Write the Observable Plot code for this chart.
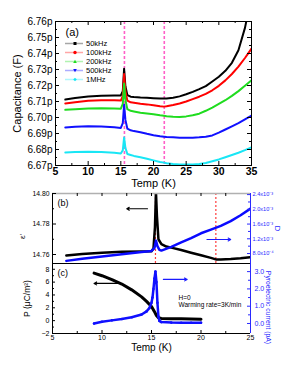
<!DOCTYPE html>
<html><head><meta charset="utf-8">
<script src="https://cdn.jsdelivr.net/npm/d3@7"></script>
<script src="https://cdn.jsdelivr.net/npm/@observablehq/plot@0.6"></script>
<style>
body{margin:0;background:#fff;}
#fig{position:relative;width:291px;height:368px;overflow:hidden;background:#fff;font-family:"Liberation Sans",Arial,sans-serif;}
</style></head><body><div id="fig"></div>
<script>
// ---------- Panel (a): capacitance vs temperature ----------
const tempA = [6.5,8,10,12,14,15,15.3,15.5,15.7,16,16.5,17,18,19,20,21,21.6,22,23,24,25,26,27,28,29,30,31,32,33,34,35];
const cap50k  = [6.7112,6.7122,6.7131,6.7136,6.7138,6.7138,6.7165,6.7305,6.7195,6.7140,6.7130,6.7128,6.7125,6.7123,6.7121,6.7119,6.7118,6.7119,6.7123,6.7132,6.7145,6.7160,6.7177,6.7196,6.7225,6.7255,6.7292,6.7342,6.7420,6.7560,6.7760];
const cap100k = [6.7088,6.7096,6.7104,6.7108,6.7108,6.7106,6.7135,6.7272,6.7165,6.7105,6.7095,6.7092,6.7086,6.7082,6.7077,6.7071,6.7068,6.7070,6.7078,6.7088,6.7100,6.7115,6.7130,6.7148,6.7170,6.7198,6.7232,6.7272,6.7318,6.7372,6.7430];
const cap200k = [6.7048,6.7052,6.7056,6.7058,6.7057,6.7055,6.7085,6.7212,6.7110,6.7052,6.7042,6.7038,6.7030,6.7025,6.7020,6.7014,6.7011,6.7008,6.7004,6.7003,6.7007,6.7014,6.7024,6.7042,6.7062,6.7085,6.7108,6.7135,6.7165,6.7198,6.7232];
const cap500k = [6.6938,6.6942,6.6945,6.6944,6.6939,6.6935,6.6965,6.7080,6.6985,6.6930,6.6920,6.6915,6.6908,6.6898,6.6889,6.6883,6.6880,6.6878,6.6876,6.6874,6.6873,6.6874,6.6876,6.6880,6.6888,6.6905,6.6925,6.6945,6.6965,6.6988,6.7012];
const cap1M   = [6.6781,6.6784,6.6786,6.6784,6.6779,6.6775,6.6795,6.6875,6.6810,6.6772,6.6766,6.6760,6.6752,6.6742,6.6732,6.6722,6.6718,6.6714,6.6710,6.6707,6.6706,6.6707,6.6710,6.6716,6.6727,6.6738,6.6752,6.6766,6.6780,6.6796,6.6814];
const seriesNames = ["50kHz","100kHz","200kHz","500kHz","1MHz"];
const seriesColors = ["#000000","#ff0000","#1fdc1f","#1010ff","#19e6f5"];
const seriesValues = [cap50k,cap100k,cap200k,cap500k,cap1M];
const capTicks = [6.67,6.68,6.69,6.70,6.71,6.72,6.73,6.74,6.75,6.76];
const capTickLabels = ["6.67p","6.68p","6.69p","6.70p","6.71p","6.72p","6.73p","6.74p","6.75p","6.76p"];
const tempTicksA = [5,10,15,20,25,30,35];
const dashTempsA = [15.55,21.65];

// ---------- Panel (b): eps' and D ----------
const tempEps = [6.4,8,10,12,14,15,15.2,15.35,15.45,15.55,15.7,16,16.5,17,18,19,20,21,21.5,22,23,24,25];
const epsVals = [14.7593,14.7603,14.7612,14.7618,14.7620,14.7622,14.7640,14.7780,14.8010,14.7850,14.7700,14.7668,14.7652,14.7645,14.7630,14.7612,14.7595,14.7578,14.7568,14.7567,14.7570,14.7575,14.7582];
const tempD = [6.4,8,10,12,14,15,15.3,15.45,15.6,15.8,16,17,18,19,20,21,22,23,24,25];
const lossD = [0.60,0.66,0.72,0.78,0.84,0.87,0.95,1.15,1.00,0.90,0.88,0.98,1.10,1.22,1.35,1.45,1.55,1.68,1.84,2.02]; // x10^-3
const epsTicks = [14.76,14.78,14.80];
const epsTickLabels = ["14.76","14.78","14.80"];
const dTicks = [0.8,1.2,1.6,2.0,2.4];
const dTickLabels = ["8.0x10\u207B\u2074","1.2x10\u207B\u00B3","1.6x10\u207B\u00B3","2.0x10\u207B\u00B3","2.4x10\u207B\u00B3"];
const dotTempsB = [15.4,21.5];

// ---------- Panel (c): P and pyroelectric current ----------
const tempP = [9.2,10,11,12,13,14,14.5,15,15.3,15.5,15.7,16,17,18,19,20];
const polP  = [7.4,7.0,6.4,5.7,4.8,3.7,3.0,2.2,1.4,0.8,0.45,0.35,0.3,0.28,0.25,0.22];
const tempI = [9.2,10,11,12,13,14,14.5,14.8,15,15.1,15.2,15.3,15.4,15.5,15.6,15.7,15.8,16,17,18,19,20];
const pyroI = [0.0,0.1,0.18,0.26,0.36,0.52,0.7,0.9,1.2,1.5,2.0,2.6,3.0,2.4,1.2,0.4,0.15,0.08,0.05,0.04,0.04,0.04];
const pTicks = [-2,0,2,4,6,8];
const iTicks = [0,1,2,3];
const tempTicksBC = [5,10,15,20,25];

// annotation arrows (data units)
const arrowEps = [{x1:14.6,x2:12.5,y:14.790}];
const arrowD   = [{x1:20.6,x2:23.0,y:1.18}];
const arrowP   = [{x1:11.6,x2:9.2,y:5.8}];
const arrowI   = [{x1:16.2,x2:18.6,y:2.55}];

// ---------- helpers ----------
const FONT = '"Liberation Sans", Arial, Helvetica, sans-serif';
const fig = document.getElementById("fig");
function place(svg, top){ svg.style.position="absolute"; svg.style.left="0px"; svg.style.top=top+"px"; fig.appendChild(svg); }
const styleT = {background:"transparent", fontFamily:FONT, overflow:"visible"};
function yIn(vals, innerW, side, len, stroke="black"){ return Plot.tickY(vals, {y:d=>d, stroke, strokeWidth:1, [side==="left"?"insetRight":"insetLeft"]: innerW-len}); }
function xIn(vals, innerH, side, len, stroke="black"){ return Plot.tickX(vals, {x:d=>d, stroke, strokeWidth:1, [side==="bottom"?"insetTop":"insetBottom"]: innerH-len}); }
const half = (arr)=> arr.slice(0,-1).map((v,i)=>(v+arr[i+1])/2);

// ---------- Panel A ----------
{
  const W=291,H=190,ml=55,mr=40,mt=21,mb=25, iw=W-ml-mr, ih=H-mt-mb;
  const rows = seriesNames.flatMap((n,k)=>tempA.map((t,i)=>({T:t,C:seriesValues[k][i],name:n})));
  const svg = Plot.plot({
    width:W, height:H, marginLeft:ml, marginRight:mr, marginTop:mt, marginBottom:mb,
    style:styleT,
    x:{domain:[5,35]}, y:{domain:[6.67,6.76]},
    color:{domain:seriesNames, range:seriesColors},
    marks:[
      Plot.ruleX(dashTempsA,{stroke:"#ff5fc8",strokeWidth:1.6,strokeDasharray:"3,2"}),
      Plot.line(rows,{x:"T",y:"C",z:"name",stroke:"name",strokeWidth:2,clip:true}),
      Plot.frame({stroke:"black"}),
      yIn(capTicks,iw,"left",4), yIn(capTicks,iw,"right",4),
      yIn(half(capTicks),iw,"left",2), yIn(half(capTicks),iw,"right",2),
      xIn(tempTicksA,ih,"bottom",4), xIn(tempTicksA,ih,"top",4),
      xIn(half(tempTicksA),ih,"bottom",2), xIn(half(tempTicksA),ih,"top",2),
      Plot.axisY({ticks:capTicks, tickFormat:d=>capTickLabels[capTicks.indexOf(d)], tickSize:0, tickPadding:3, fontSize:10, label:null}),
      Plot.axisX({ticks:tempTicksA, tickSize:0, tickPadding:2, fontSize:10.5, fontWeight:"bold", label:null}),
      Plot.text(["(a)"],{frameAnchor:"top-left",dx:10,dy:11,fontSize:11,textAnchor:"start",lineAnchor:"middle"}),
      Plot.text(["Temp (K)"],{frameAnchor:"bottom",dy:18,fontSize:11,textAnchor:"middle",lineAnchor:"middle"}),
      Plot.text(["Capacitance (F)"],{frameAnchor:"left",dx:-38,rotate:-90,fontSize:11,textAnchor:"middle",lineAnchor:"middle"})
    ]
  });
  place(svg,0);
  // legend
  const leg = document.createElement("div");
  leg.style.cssText = "position:absolute;left:64px;top:38.5px;font:7.5px "+FONT+";";
  const shapes = ["square","circle","tri","tridown","diamond"];
  seriesNames.forEach((n,i)=>{
    const row = document.createElement("div");
    row.style.cssText="height:9px;display:flex;align-items:center;";
    const c = seriesColors[i];
    let m;
    if(shapes[i]==="square") m=`<rect x="9.5" y="3" width="3" height="3" fill="${c}"/>`;
    else if(shapes[i]==="circle") m=`<circle cx="11" cy="4.5" r="1.7" fill="${c}"/>`;
    else if(shapes[i]==="tri") m=`<path d="M11,2.8L12.8,6H9.2Z" fill="${c}"/>`;
    else if(shapes[i]==="tridown") m=`<path d="M11,6.2L12.8,3H9.2Z" fill="${c}"/>`;
    else m=`<path d="M11,2.7L12.8,4.5L11,6.3L9.2,4.5Z" fill="${c}"/>`;
    row.innerHTML = `<svg width="20" height="9" style="display:block"><line x1="1" x2="19" y1="4.5" y2="4.5" stroke="${c}" stroke-opacity="0.35" stroke-width="1.5"/>${m}</svg><span style="margin-left:2px;line-height:9px">${n}</span>`;
    leg.appendChild(row);
  });
  fig.appendChild(leg);
}

// ---------- Panel B ----------
{
  const W=291,H=90,ml=52,mr=41,mt=10,mb=10, iw=W-ml-mr, ih=H-mt-mb;
  const epsDomain=[14.7541,14.80], dDomain=[0.529,2.43];
  const epsRows = tempEps.map((t,i)=>({T:t,v:epsVals[i]}));
  const dRows = tempD.map((t,i)=>({T:t,v:lossD[i]}));
  const left = Plot.plot({
    width:W,height:H,marginLeft:ml,marginRight:mr,marginTop:mt,marginBottom:mb,style:styleT,
    x:{domain:[5,25],axis:null}, y:{domain:epsDomain},
    marks:[
      Plot.ruleX(dotTempsB,{stroke:"#ff3b3b",strokeWidth:1.2,strokeDasharray:"2,2"}),
      Plot.line(epsRows,{x:"T",y:"v",stroke:"black",strokeWidth:2.5,clip:true}),
      Plot.ruleX([5],{stroke:"black"}),
      Plot.ruleY([epsDomain[1]],{stroke:"#b0b0b0",strokeWidth:1.5}),
      Plot.ruleY([epsDomain[0]],{stroke:"black",strokeWidth:1.2}),
      yIn(epsTicks,iw,"left",4), yIn(half(epsTicks),iw,"left",2),
      xIn(tempTicksBC,ih,"top",3), xIn(half(tempTicksBC),ih,"top",3),
      Plot.axisY({ticks:epsTicks,tickFormat:d=>epsTickLabels[epsTicks.indexOf(d)],tickSize:0,tickPadding:3,fontSize:6.8,label:null}),
      Plot.arrow(arrowEps,{x1:"x1",x2:"x2",y1:"y",y2:"y",stroke:"black",strokeWidth:1.1,headLength:4}),
      Plot.text(["(b)"],{frameAnchor:"top-left",dx:5,dy:10,fontSize:9,textAnchor:"start",lineAnchor:"middle"}),
      Plot.text(["\u03B5'"],{frameAnchor:"left",dx:-30,dy:8,rotate:-90,fontSize:8,textAnchor:"middle",lineAnchor:"middle"})
    ]
  });
  place(left,183);
  const right = Plot.plot({
    width:W,height:H,marginLeft:ml,marginRight:mr,marginTop:mt,marginBottom:mb,style:styleT,
    x:{domain:[5,25],axis:null}, y:{domain:dDomain},
    marks:[
      Plot.line(dRows,{x:"T",y:"v",stroke:"#0a0aff",strokeWidth:2.5,clip:true}),
      Plot.ruleX([25],{stroke:"#2a2aff"}),
      yIn(dTicks,iw,"right",3,"#2a2aff"), yIn(half(dTicks),iw,"right",2,"#2a2aff"),
      Plot.axisY({anchor:"right",ticks:dTicks,tickFormat:d=>dTickLabels[dTicks.indexOf(d)],tickSize:0,tickPadding:2,fontSize:5.6,fill:"#2a2aff",label:null}),
      Plot.arrow(arrowD,{x1:"x1",x2:"x2",y1:"y",y2:"y",stroke:"#1a1aff",strokeWidth:1.1,headLength:4}),
      Plot.text(["D"],{frameAnchor:"right",dx:27,rotate:90,fontSize:8,fill:"#2a2aff",textAnchor:"middle",lineAnchor:"middle"})
    ]
  });
  place(right,183);
}

// ---------- Panel C ----------
{
  const W=291,H=115,ml=52,mr=41,mt=10,mb=35, iw=W-ml-mr, ih=H-mt-mb;
  const pDomain=[-2,8.9], iDomain=[-0.58,3.47];
  const pRows = tempP.map((t,i)=>({T:t,v:polP[i]}));
  const iRows = tempI.map((t,i)=>({T:t,v:pyroI[i]}));
  const left = Plot.plot({
    width:W,height:H,marginLeft:ml,marginRight:mr,marginTop:mt,marginBottom:mb,style:styleT,
    x:{domain:[5,25]}, y:{domain:pDomain},
    marks:[
      Plot.line(pRows,{x:"T",y:"v",stroke:"black",strokeWidth:3,clip:true}),
      Plot.ruleX([5],{stroke:"black"}),
      Plot.ruleY([pDomain[0]],{stroke:"black"}),
      Plot.ruleY([pDomain[1]],{stroke:"black",strokeWidth:1.2}),
      yIn(pTicks,iw,"left",3), yIn(half(pTicks),iw,"left",2),
      xIn(tempTicksBC,ih,"bottom",3), xIn(half(tempTicksBC),ih,"bottom",2),
      Plot.axisY({ticks:pTicks,tickSize:0,tickPadding:3,fontSize:7,label:null}),
      Plot.axisX({ticks:tempTicksBC,tickSize:0,tickPadding:2,fontSize:7,label:null}),
      Plot.arrow(arrowP,{x1:"x1",x2:"x2",y1:"y",y2:"y",stroke:"black",strokeWidth:1.1,headLength:4}),
      Plot.text(["(c)"],{frameAnchor:"top-left",dx:5,dy:10,fontSize:9,textAnchor:"start",lineAnchor:"middle"}),
      Plot.text(["H=0"],{frameAnchor:"top-left",dx:126,dy:34.5,fontSize:6.5,textAnchor:"start",lineAnchor:"middle"}),
      Plot.text(["Warming rate=3K/min"],{frameAnchor:"top-left",dx:126,dy:41,fontSize:6.5,textAnchor:"start",lineAnchor:"middle"}),
      Plot.text(["Temp (K)"],{frameAnchor:"bottom",dy:14,fontSize:10,textAnchor:"middle",lineAnchor:"middle"}),
      Plot.text(["P (\u03BCC/m\u00B2)"],{frameAnchor:"left",dx:-25,rotate:-90,fontSize:8.5,textAnchor:"middle",lineAnchor:"middle"})
    ]
  });
  place(left,253);
  const right = Plot.plot({
    width:W,height:H,marginLeft:ml,marginRight:mr,marginTop:mt,marginBottom:mb,style:styleT,
    x:{domain:[5,25],axis:null}, y:{domain:iDomain},
    marks:[
      Plot.line(iRows,{x:"T",y:"v",stroke:"#1010ff",strokeWidth:2.5,clip:true}),
      Plot.dot(iRows,{x:"T",y:"v",r:1.3,fill:"#1010ff",clip:true}),
      Plot.ruleX([25],{stroke:"#2a2aff"}),
      yIn(iTicks,iw,"right",3,"#2a2aff"), yIn(half(iTicks),iw,"right",2,"#2a2aff"),
      Plot.axisY({anchor:"right",ticks:iTicks,tickSize:0,tickPadding:4,fontSize:7,fill:"#2a2aff",label:null}),
      Plot.arrow(arrowI,{x1:"x1",x2:"x2",y1:"y",y2:"y",stroke:"#1a1aff",strokeWidth:1.1,headLength:4}),
      Plot.text(["Pyroelectric current (pA)"],{frameAnchor:"right",dx:18,dy:9,rotate:90,fontSize:6.8,fill:"#2a2aff",textAnchor:"middle",lineAnchor:"middle"})
    ]
  });
  place(right,253);
}
</script></body></html>
